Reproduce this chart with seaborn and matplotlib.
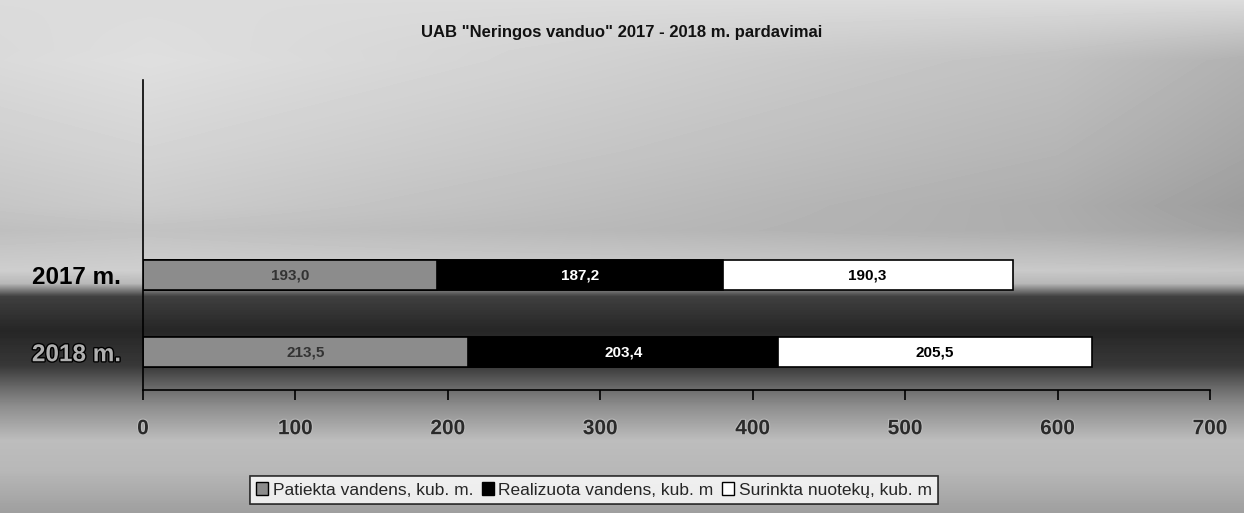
import numpy as np
import pandas as pd
import matplotlib
matplotlib.use("Agg")
import matplotlib.pyplot as plt
import matplotlib.patheffects as pe
from matplotlib.patches import Patch
import seaborn as sns

# ---- data ----
years = ["2017 m.", "2018 m."]
patiekta = [193.0, 213.5]
realizuota = [187.2, 203.4]
surinkta = [190.3, 205.5]
series_names = ["Patiekta vandens, kub. m.", "Realizuota vandens, kub. m", "Surinkta nuotekų, kub. m"]
xticks = [0, 100, 200, 300, 400, 500, 600, 700]
title = 'UAB "Neringos vanduo" 2017 - 2018 m. pardavimai'

sns.set_theme(style="white")
plt.rcParams["font.family"] = ["Liberation Sans", "DejaVu Sans"]

fig = plt.figure(figsize=(12.44, 5.13), dpi=100)

# ---- gradient background (decoration) ----
bg = fig.add_axes([0, 0, 1, 1], zorder=-10)
rows = np.arange(513)
prof = np.interp(rows, [0, 50, 150, 230, 270, 283, 296, 330, 365, 388, 405, 440, 470, 513],
                 [0.86, 0.82, 0.77, 0.72, 0.80, 0.72, 0.25, 0.15, 0.22, 0.42, 0.55, 0.74, 0.72, 0.62])
cols = np.linspace(0, 1, 1244)
horiz = np.interp(cols, [0, 0.12, 0.5, 0.85, 1.0], [0.04, 0.06, 0.0, -0.06, -0.12])
wrow = np.clip((285 - rows) / 80.0, 0, 1) * np.clip(rows / 60.0, 0, 1)
img = np.clip(prof[:, None] + horiz[None, :] * wrow[:, None], 0, 1)
bg.imshow(img, cmap="gray", vmin=0, vmax=1, aspect="auto", extent=[0, 1, 0, 1])
bg.set_axis_off()

ax = fig.add_axes([143 / 1244, 1 - 390 / 513, (1210 - 143) / 1244, (390 - 80) / 513])
ax.set_facecolor("none")

df = pd.DataFrame({"year": years, "p": patiekta, "r": realizuota, "s": surinkta})
df["c2"] = df["p"] + df["r"]
df["c3"] = df["c2"] + df["s"]

w = 0.39
sns.barplot(data=df, x="c3", y="year", orient="h", color="white", edgecolor="black",
            linewidth=1.2, width=w, saturation=1, ax=ax)
sns.barplot(data=df, x="c2", y="year", orient="h", color="black", edgecolor="black",
            linewidth=1.2, width=w, saturation=1, ax=ax)
sns.barplot(data=df, x="p", y="year", orient="h", color="#8c8c8c", edgecolor="black",
            linewidth=1.2, width=w, saturation=1, ax=ax)

# value labels
for i in range(len(years)):
    starts = [0, df["p"][i], df["c2"][i]]
    vals = [df["p"][i], df["r"][i], df["s"][i]]
    colors = ["#333333", "white", "black"]
    for s0, v, c in zip(starts, vals, colors):
        ax.text(s0 + v / 2, i, f"{v:.1f}".replace(".", ","), ha="center", va="center",
                fontsize=11, fontweight="bold", color=c)

ax.set_xlim(0, 700)
ax.set_ylim(1.49, -2.53)
ax.set_xticks(xticks)
ax.set_xticklabels([str(t) for t in xticks])
ax.set_xlabel("")
ax.set_ylabel("")
for sp in ["top", "right"]:
    ax.spines[sp].set_visible(False)
ax.spines["left"].set_color("black")
ax.spines["bottom"].set_color("black")
ax.spines["left"].set_linewidth(1.2)
ax.spines["bottom"].set_linewidth(1.2)
ax.tick_params(axis="x", direction="out", length=7, width=1.2, color="black", pad=14,
               bottom=True)
ax.tick_params(axis="y", length=0, pad=16)
for lbl in ax.get_xticklabels():
    lbl.set_fontsize(15)
    lbl.set_fontweight("bold")
    lbl.set_color("#2a2a2a")
    lbl.set_path_effects([pe.withStroke(linewidth=1.5, foreground="#bbbbbb")])
ylbls = ax.get_yticklabels()
for j, lbl in enumerate(ylbls):
    lbl.set_fontsize(17.5)
    lbl.set_fontweight("bold")
    if j == 0:
        lbl.set_color("black")
    else:
        lbl.set_color("#b0b0b0")
        lbl.set_path_effects([pe.withStroke(linewidth=2, foreground="black")])

fig.text(0.5, 1 - 33 / 513, title, ha="center", va="center", fontsize=12,
         fontweight="bold", color="#111111")

handles = [Patch(facecolor="#8c8c8c", edgecolor="black"),
           Patch(facecolor="black", edgecolor="black"),
           Patch(facecolor="white", edgecolor="black")]
leg = fig.legend(handles, series_names, loc="center", ncol=3,
                 bbox_to_anchor=(594 / 1244, 1 - 490 / 513), fontsize=12.5,
                 frameon=True, fancybox=False, handlelength=0.7, handleheight=0.7,
                 handletextpad=0.25, columnspacing=0.5, borderpad=0.35)
leg.get_frame().set_edgecolor("black")
leg.get_frame().set_facecolor("white")
leg.get_frame().set_linewidth(1.2)

fig.savefig("out.png", dpi=100)
